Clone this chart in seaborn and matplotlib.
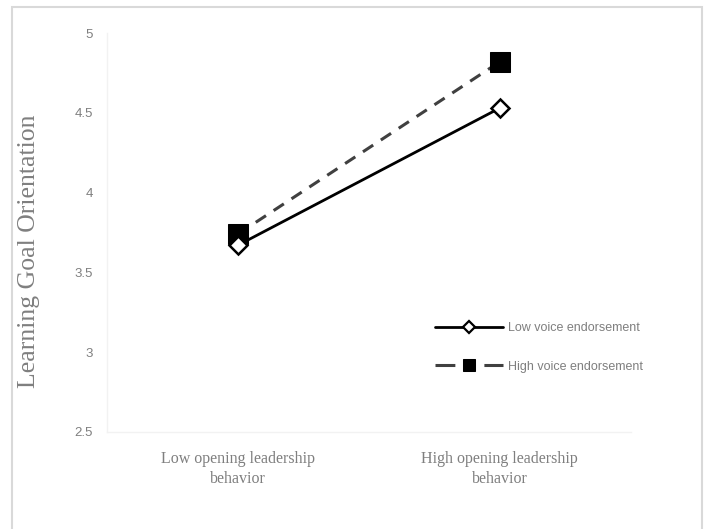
"""Interaction plot: learning goal orientation by opening leadership and voice endorsement."""

import matplotlib

matplotlib.use("Agg")

import matplotlib.pyplot as plt
from matplotlib.patches import Rectangle
import pandas as pd
import seaborn as sns

CATEGORIES = ["Low opening leadership\nbehavior", "High opening leadership\nbehavior"]
LOW_VOICE = [3.67, 4.53]
HIGH_VOICE = [3.74, 4.82]
SERIES_LABELS = ["Low voice endorsement", "High voice endorsement"]
Y_TICKS = [2.5, 3, 3.5, 4, 4.5, 5]
Y_TICK_LABELS = ["2.5", "3", "3.5", "4", "4.5", "5"]
Y_LABEL = "Learning Goal Orientation"

TEXT_GRAY = "#7f7f7f"
SERIF = ["Liberation Serif", "DejaVu Serif"]


def main() -> None:
    sns.set_theme(style="white")
    plt.rcParams["font.family"] = ["Liberation Sans", "DejaVu Sans"]

    frame = pd.DataFrame(
        {
            "leadership": CATEGORIES * 2,
            "lgo": LOW_VOICE + HIGH_VOICE,
            "voice": [SERIES_LABELS[0]] * 2 + [SERIES_LABELS[1]] * 2,
        }
    )

    fig = plt.figure(figsize=(7.08, 5.29), dpi=100)
    ax = fig.add_axes([0.151, 0.1834, 0.74, 0.7542])

    # outer chart border like the office chart frame
    fig.patches.append(
        Rectangle((0.017, -0.01), 0.975, 0.997, transform=fig.transFigure,
                  fill=False, edgecolor="#d9d9d9", linewidth=1.5)
    )

    low = frame.loc[frame["voice"] == SERIES_LABELS[0]]
    high = frame.loc[frame["voice"] == SERIES_LABELS[1]]

    sns.lineplot(
        data=high, x="leadership", y="lgo", ax=ax, label=SERIES_LABELS[1],
        color="#404040", linestyle=(0, (4, 3)), linewidth=2.2,
        marker="s", markersize=14, markerfacecolor="black",
        markeredgecolor="black", sort=False,
    )
    sns.lineplot(
        data=low, x="leadership", y="lgo", ax=ax, label=SERIES_LABELS[0],
        color="black", linewidth=2.0,
        marker="D", markersize=9, markerfacecolor="white",
        markeredgecolor="black", markeredgewidth=1.8, sort=False,
    )

    ax.set_xlim(-0.5, 1.5)
    ax.set_ylim(2.5, 5)
    ax.set_yticks(Y_TICKS)
    ax.set_yticklabels(Y_TICK_LABELS, color=TEXT_GRAY, fontsize=9.5)
    ax.tick_params(axis="y", length=0, pad=10)
    ax.tick_params(axis="x", length=0, pad=14)
    for lbl in ax.get_xticklabels():
        lbl.set_family(SERIF)
        lbl.set_fontsize(11.5)
        lbl.set_color(TEXT_GRAY)
        lbl.set_linespacing(1.3)

    ax.set_xlabel("")
    ax.set_ylabel(Y_LABEL, family=SERIF, fontsize=18.5, color=TEXT_GRAY)
    ax.yaxis.set_label_coords(-0.128, 0.454)

    for side in ["top", "right"]:
        ax.spines[side].set_visible(False)
    for side in ["left", "bottom"]:
        ax.spines[side].set_color("#f2f2f2")
        ax.spines[side].set_linewidth(1.0)

    handles, labels = ax.get_legend_handles_labels()
    leg = ax.legend(
        handles[::-1], labels[::-1], loc="center left",
        bbox_to_anchor=(0.605, 0.212), frameon=False, fontsize=9,
        labelcolor=TEXT_GRAY, handlelength=5.4, handletextpad=0.4,
        labelspacing=2.1,
    )
    legend_lines = leg.get_lines()
    legend_lines[0].set_markersize(6)
    legend_lines[0].set_markeredgewidth(1.6)
    legend_lines[1].set_markersize(9)
    legend_lines[1].set_dashes([6.5, 9.5])

    fig.savefig("out.png", dpi=100)
    plt.close(fig)


if __name__ == "__main__":
    main()
